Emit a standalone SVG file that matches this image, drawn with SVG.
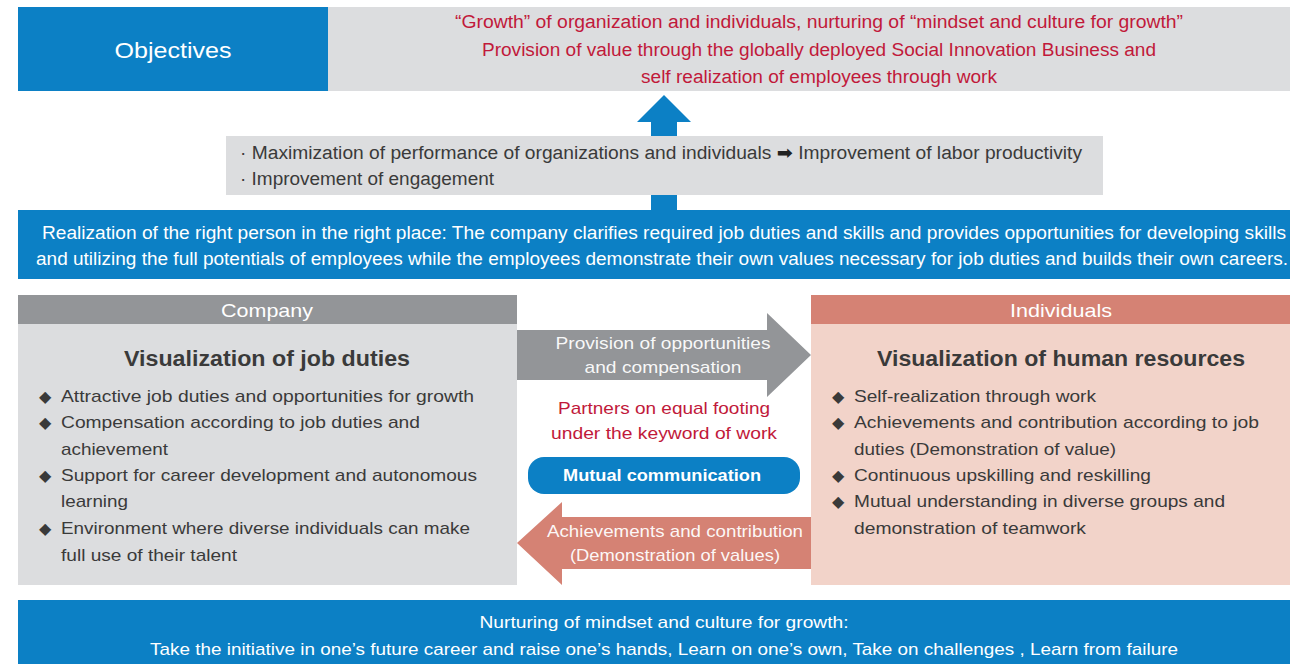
<svg xmlns="http://www.w3.org/2000/svg" width="1290" height="664" viewBox="0 0 1290 664">
<style>
text{font-family:"Liberation Sans",Arial,"DejaVu Sans",sans-serif;}
.blue{fill:#0c80c5;}
.lgray{fill:#dcdddf;}
.dgray{fill:#939598;}
.salmon{fill:#d58274;}
.pink{fill:#f2d3c9;}
.red{fill:#c1193a;font-size:18px;}
.wht{fill:#ffffff;}
.dark{fill:#3a3a3a;}
.b17{font-size:17px;}
.bul{font-family:"DejaVu Sans",sans-serif;font-size:16px;fill:#3a3a3a;}
.head{font-size:22px;font-weight:bold;fill:#3a3a3a;}
</style>
<rect x="0" y="0" width="1290" height="664" fill="#ffffff"/>
<g id="connectors">
  <polygon class="blue" points="664,95 691,122 677,122 677,212 651,212 651,122 637,122"/>
  <polygon class="dgray" points="517,330 767,330 767,313 811,355 767,397 767,380 517,380"/>
  <polygon class="salmon" points="811,517 562,517 562,502 517,543 562,585 562,569 811,569"/>
</g>
<g id="objectives">
  <rect class="blue" x="18" y="7" width="310" height="84"/>
  <text class="wht" x="173" y="58" font-size="22" text-anchor="middle" textLength="117" lengthAdjust="spacingAndGlyphs">Objectives</text>
</g>
<g id="objectives-text">
  <rect class="lgray" x="328" y="7" width="962" height="84"/>
  <text class="red" x="819" y="28" text-anchor="middle" textLength="728" lengthAdjust="spacingAndGlyphs">“Growth” of organization and individuals, nurturing of “mindset and culture for growth”</text>
  <text class="red" x="819" y="56" text-anchor="middle" textLength="674" lengthAdjust="spacingAndGlyphs">Provision of value through the globally deployed Social Innovation Business and</text>
  <text class="red" x="819" y="83" text-anchor="middle" textLength="356" lengthAdjust="spacingAndGlyphs">self realization of employees through work</text>
</g>
<g id="outcomes">
  <rect class="lgray" x="226" y="136" width="877" height="59"/>
  <text class="dark" x="240" y="159" font-size="18" textLength="842" lengthAdjust="spacingAndGlyphs">· Maximization of performance of organizations and individuals <tspan fill="#222" font-weight="bold">➡</tspan> Improvement of labor productivity</text>
  <text class="dark" x="240" y="185" font-size="18" textLength="254" lengthAdjust="spacingAndGlyphs">· Improvement of engagement</text>
</g>
<g id="right-person">
  <rect class="blue" x="18" y="210" width="1272" height="69"/>
  <text class="wht" x="42" y="239" font-size="17.5" textLength="1244" lengthAdjust="spacingAndGlyphs">Realization of the right person in the right place: The company clarifies required job duties and skills and provides opportunities for developing skills</text>
  <text class="wht" x="36" y="265" font-size="17.5" textLength="1252" lengthAdjust="spacingAndGlyphs">and utilizing the full potentials of employees while the employees demonstrate their own values necessary for job duties and builds their own careers.</text>
</g>
<g id="company">
  <rect class="dgray" x="18" y="295" width="499" height="29"/>
  <rect class="lgray" x="18" y="324" width="499" height="261"/>
  <text class="wht" x="267" y="317" font-size="19" text-anchor="middle" textLength="92" lengthAdjust="spacingAndGlyphs">Company</text>
  <text class="head" x="267" y="366" text-anchor="middle" textLength="286" lengthAdjust="spacingAndGlyphs">Visualization of job duties</text>
  <text class="bul" x="39" y="402">◆</text>
  <text class="dark b17" x="61" y="402" textLength="413" lengthAdjust="spacingAndGlyphs">Attractive job duties and opportunities for growth</text>
  <text class="bul" x="39" y="428">◆</text>
  <text class="dark b17" x="61" y="428" textLength="359" lengthAdjust="spacingAndGlyphs">Compensation according to job duties and</text>
  <text class="dark b17" x="61" y="455" textLength="107" lengthAdjust="spacingAndGlyphs">achievement</text>
  <text class="bul" x="39" y="481">◆</text>
  <text class="dark b17" x="61" y="481" textLength="416" lengthAdjust="spacingAndGlyphs">Support for career development and autonomous</text>
  <text class="dark b17" x="61" y="507" textLength="67" lengthAdjust="spacingAndGlyphs">learning</text>
  <text class="bul" x="39" y="534">◆</text>
  <text class="dark b17" x="61" y="534" textLength="409" lengthAdjust="spacingAndGlyphs">Environment where diverse individuals can make</text>
  <text class="dark b17" x="61" y="561" textLength="176" lengthAdjust="spacingAndGlyphs">full use of their talent</text>
</g>
<g id="individuals">
  <rect class="salmon" x="811" y="295" width="479" height="29"/>
  <rect class="pink" x="811" y="324" width="479" height="261"/>
  <text class="wht" x="1061" y="317" font-size="19" text-anchor="middle" textLength="102" lengthAdjust="spacingAndGlyphs">Individuals</text>
  <text class="head" x="1061" y="366" text-anchor="middle" textLength="368" lengthAdjust="spacingAndGlyphs">Visualization of human resources</text>
  <text class="bul" x="832" y="402">◆</text>
  <text class="dark b17" x="854" y="402" textLength="242" lengthAdjust="spacingAndGlyphs">Self-realization through work</text>
  <text class="bul" x="832" y="428">◆</text>
  <text class="dark b17" x="854" y="428" textLength="405" lengthAdjust="spacingAndGlyphs">Achievements and contribution according to job</text>
  <text class="dark b17" x="854" y="455" textLength="262" lengthAdjust="spacingAndGlyphs">duties (Demonstration of value)</text>
  <text class="bul" x="832" y="481">◆</text>
  <text class="dark b17" x="854" y="481" textLength="297" lengthAdjust="spacingAndGlyphs">Continuous upskilling and reskilling</text>
  <text class="bul" x="832" y="507">◆</text>
  <text class="dark b17" x="854" y="507" textLength="371" lengthAdjust="spacingAndGlyphs">Mutual understanding in diverse groups and</text>
  <text class="dark b17" x="854" y="534" textLength="232" lengthAdjust="spacingAndGlyphs">demonstration of teamwork</text>
</g>
<g id="provision-label">
  <text class="wht b17" x="663" y="349" text-anchor="middle" textLength="215" lengthAdjust="spacingAndGlyphs" fill-opacity="0.95">Provision of opportunities</text>
  <text class="wht b17" x="663" y="373" text-anchor="middle" textLength="157" lengthAdjust="spacingAndGlyphs" fill-opacity="0.95">and compensation</text>
</g>
<g id="partners">
  <text class="b17" fill="#c1193a" x="664" y="414" text-anchor="middle" textLength="212" lengthAdjust="spacingAndGlyphs">Partners on equal footing</text>
  <text class="b17" fill="#c1193a" x="664" y="439" text-anchor="middle" textLength="226" lengthAdjust="spacingAndGlyphs">under the keyword of work</text>
</g>
<g id="mutual-communication">
  <rect class="blue" x="528" y="457" width="272" height="37" rx="16" ry="16"/>
  <text class="wht b17" x="662" y="481" text-anchor="middle" font-weight="bold" textLength="198" lengthAdjust="spacingAndGlyphs">Mutual communication</text>
</g>
<g id="achievements-label">
  <text class="wht b17" x="675" y="537" text-anchor="middle" textLength="256" lengthAdjust="spacingAndGlyphs" fill-opacity="0.95">Achievements and contribution</text>
  <text class="wht b17" x="675" y="561" text-anchor="middle" textLength="210" lengthAdjust="spacingAndGlyphs" fill-opacity="0.95">(Demonstration of values)</text>
</g>
<g id="nurturing">
  <rect class="blue" x="18" y="600" width="1272" height="64"/>
  <text class="wht b17" x="664" y="628" text-anchor="middle" textLength="369" lengthAdjust="spacingAndGlyphs">Nurturing of mindset and culture for growth:</text>
  <text class="wht b17" x="664" y="655" text-anchor="middle" textLength="1028" lengthAdjust="spacingAndGlyphs">Take the initiative in one’s future career and raise one’s hands, Learn on one’s own, Take on challenges , Learn from failure</text>
</g>
</svg>
